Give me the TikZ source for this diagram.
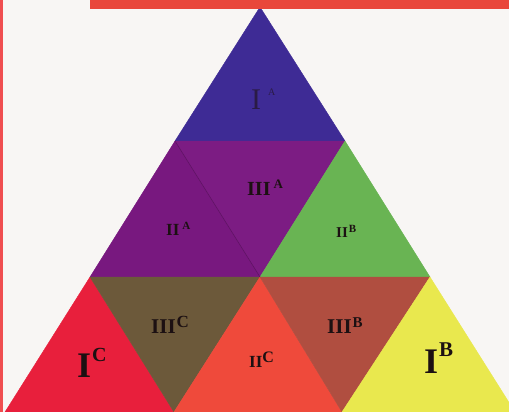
\documentclass[tikz,border=0pt]{standalone}
\usepackage{fontspec}
\setmainfont{Liberation Serif}
\definecolor{bgc}{HTML}{F8F6F4}
\definecolor{barc}{HTML}{E9473B}
\definecolor{edgec}{HTML}{F04E50}
\definecolor{cIA}{HTML}{3E2B95}
\definecolor{cIIA}{HTML}{78187F}
\definecolor{cIIIA}{HTML}{7C1C83}
\definecolor{cIIB}{HTML}{69B453}
\definecolor{cIC}{HTML}{E81F3C}
\definecolor{cIIIC}{HTML}{6C593A}
\definecolor{cIIC}{HTML}{EF4A3B}
\definecolor{cIIIB}{HTML}{B04E40}
\definecolor{cIB}{HTML}{E9E84E}
\definecolor{labc}{HTML}{1C1012}
\newcommand\trilab[5]{{\fontsize{#1}{#1}\selectfont #3}\hspace{#5}\raisebox{#2}{#4}}
\begin{document}
\begin{tikzpicture}[x=1pt,y=-1pt,
  lab/.style={text=labc, inner sep=0pt, anchor=base west, font=\bfseries},
  tri/.style={line width=0.4pt, line join=round}]
\useasboundingbox (0,0) rectangle (509,412);
\fill[bgc] (0,0) rectangle (509,412);
\coordinate (P0) at (260,7);
\coordinate (L1) at (175,141);
\coordinate (R1) at (345,141);
\coordinate (L2) at (90,277);
\coordinate (M2) at (260,277);
\coordinate (R2) at (430,277);
\coordinate (L3) at (5,412);
\coordinate (A3) at (174,412);
\coordinate (B3) at (342,412);
\coordinate (R3) at (515,412);
\begin{scope}
\clip (0,0) rectangle (509,412);
\fill[cIA, draw=cIA, tri] (P0) -- (L1) -- (R1) -- cycle;
\fill[cIIA, draw=cIIA, tri] (L1) -- (L2) -- (M2) -- cycle;
\fill[cIIIA, draw=cIIIA, tri] (L1) -- (R1) -- (M2) -- cycle;
\fill[cIIB, draw=cIIB, tri] (R1) -- (M2) -- (R2) -- cycle;
\fill[cIC, draw=cIC, tri] (L2) -- (L3) -- (A3) -- cycle;
\fill[cIIIC, draw=cIIIC, tri] (L2) -- (M2) -- (A3) -- cycle;
\fill[cIIC, draw=cIIC, tri] (M2) -- (A3) -- (B3) -- cycle;
\fill[cIIIB, draw=cIIIB, tri] (M2) -- (R2) -- (B3) -- cycle;
\fill[cIB, draw=cIB, tri] (R2) -- (B3) -- (R3) -- cycle;
\draw[cIIA!80!black, line width=0.6pt] (L1) -- (M2);
\end{scope}
\fill[barc] (90,0) rectangle (509,9);
\fill[edgec] (0,0) rectangle (2.5,412);
\node[lab, text=labc!60!cIA, font=\mdseries] (tIA) at (251,110) {\trilab{30}{14pt}{I}{\fontsize{10}{10}\selectfont A}{7pt}};
\node[lab] (tIIIA) at (247,195) {\trilab{20}{7pt}{III}{\fontsize{13}{13}\selectfont A}{3pt}};
\node[lab] (tIIA) at (166,235) {\trilab{17}{6pt}{II}{\fontsize{11}{11}\selectfont A}{3pt}};
\node[lab] (tIIB) at (336,237) {\trilab{15}{5pt}{II}{\fontsize{11}{11}\selectfont B}{1pt}};
\node[lab] (tIIIC) at (151,333) {\trilab{21}{6pt}{III}{\fontsize{17}{17}\selectfont C}{1pt}};
\node[lab] (tIIC) at (249,367) {\trilab{17}{5pt}{II}{\fontsize{16}{16}\selectfont C}{0pt}};
\node[lab] (tIIIB) at (327,333) {\trilab{21}{6pt}{III}{\fontsize{15}{15}\selectfont B}{1pt}};
\node[lab] (tIC) at (77,377) {\trilab{36}{16pt}{I}{\fontsize{20}{20}\selectfont C}{1pt}};
\node[lab] (tIB) at (424,373) {\trilab{36}{17pt}{I}{\fontsize{21}{21}\selectfont B}{1pt}};
\end{tikzpicture}
\end{document}
